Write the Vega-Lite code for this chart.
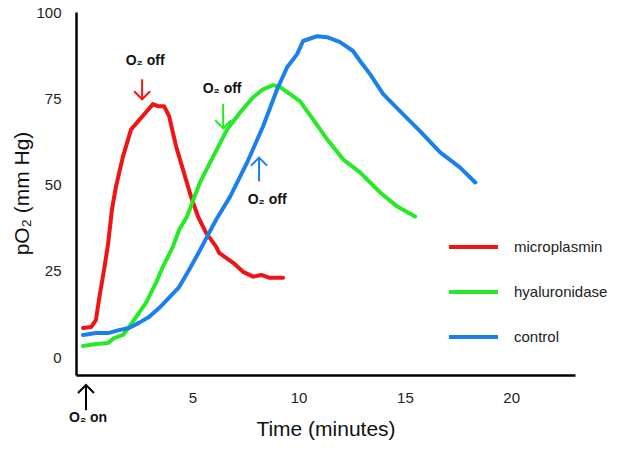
{
  "$schema": "https://vega.github.io/schema/vega-lite/v6.json",
  "width": 499,
  "height": 363,
  "autosize": {"type": "none"},
  "padding": {"left": 76, "top": 12, "right": 54, "bottom": 74},
  "background": "white",
  "config": {
    "view": {"stroke": null},
    "font": "Liberation Sans",
    "axis": {
      "grid": false,
      "domainColor": "black",
      "domainWidth": 2.5,
      "labelFont": "Liberation Sans",
      "titleFont": "Liberation Sans",
      "labelColor": "#222",
      "titleColor": "#111",
      "titleFontWeight": "normal",
      "labelOverlap": false
    }
  },
  "datasets": {
    "curves": [
      {"series": "microplasmin", "t": -0.14, "v": 8.4},
      {"series": "microplasmin", "t": 0.24, "v": 8.7},
      {"series": "microplasmin", "t": 0.47, "v": 10.8},
      {"series": "microplasmin", "t": 0.61, "v": 16.6},
      {"series": "microplasmin", "t": 0.85, "v": 25.3},
      {"series": "microplasmin", "t": 1.04, "v": 32.8},
      {"series": "microplasmin", "t": 1.22, "v": 42.7},
      {"series": "microplasmin", "t": 1.41, "v": 49.4},
      {"series": "microplasmin", "t": 1.74, "v": 58.1},
      {"series": "microplasmin", "t": 2.12, "v": 66.0},
      {"series": "microplasmin", "t": 2.45, "v": 68.3},
      {"series": "microplasmin", "t": 2.73, "v": 70.3},
      {"series": "microplasmin", "t": 3.15, "v": 73.3},
      {"series": "microplasmin", "t": 3.39, "v": 72.7},
      {"series": "microplasmin", "t": 3.67, "v": 72.7},
      {"series": "microplasmin", "t": 3.91, "v": 69.8},
      {"series": "microplasmin", "t": 4.24, "v": 61.0},
      {"series": "microplasmin", "t": 4.56, "v": 54.4},
      {"series": "microplasmin", "t": 4.94, "v": 46.5},
      {"series": "microplasmin", "t": 5.27, "v": 40.7},
      {"series": "microplasmin", "t": 5.65, "v": 36.0},
      {"series": "microplasmin", "t": 6.12, "v": 32.0},
      {"series": "microplasmin", "t": 6.26, "v": 30.2},
      {"series": "microplasmin", "t": 6.92, "v": 27.3},
      {"series": "microplasmin", "t": 7.39, "v": 24.7},
      {"series": "microplasmin", "t": 7.86, "v": 23.3},
      {"series": "microplasmin", "t": 8.24, "v": 23.8},
      {"series": "microplasmin", "t": 8.61, "v": 23.0},
      {"series": "microplasmin", "t": 9.27, "v": 23.0},
      {"series": "hyaluronidase", "t": -0.14, "v": 3.2},
      {"series": "hyaluronidase", "t": 0.47, "v": 3.8},
      {"series": "hyaluronidase", "t": 1.04, "v": 4.1},
      {"series": "hyaluronidase", "t": 1.32, "v": 5.5},
      {"series": "hyaluronidase", "t": 1.74, "v": 6.4},
      {"series": "hyaluronidase", "t": 2.02, "v": 8.7},
      {"series": "hyaluronidase", "t": 2.35, "v": 11.6},
      {"series": "hyaluronidase", "t": 2.82, "v": 15.7},
      {"series": "hyaluronidase", "t": 3.29, "v": 21.5},
      {"series": "hyaluronidase", "t": 3.62, "v": 26.2},
      {"series": "hyaluronidase", "t": 4.09, "v": 32.0},
      {"series": "hyaluronidase", "t": 4.38, "v": 36.9},
      {"series": "hyaluronidase", "t": 4.75, "v": 40.7},
      {"series": "hyaluronidase", "t": 5.36, "v": 50.6},
      {"series": "hyaluronidase", "t": 5.98, "v": 58.1},
      {"series": "hyaluronidase", "t": 6.64, "v": 66.0},
      {"series": "hyaluronidase", "t": 7.25, "v": 70.9},
      {"series": "hyaluronidase", "t": 7.86, "v": 75.3},
      {"series": "hyaluronidase", "t": 8.33, "v": 77.6},
      {"series": "hyaluronidase", "t": 8.8, "v": 78.8},
      {"series": "hyaluronidase", "t": 9.13, "v": 78.2},
      {"series": "hyaluronidase", "t": 9.6, "v": 76.2},
      {"series": "hyaluronidase", "t": 10.07, "v": 74.1},
      {"series": "hyaluronidase", "t": 10.68, "v": 68.9},
      {"series": "hyaluronidase", "t": 11.34, "v": 63.1},
      {"series": "hyaluronidase", "t": 12.09, "v": 57.3},
      {"series": "hyaluronidase", "t": 12.89, "v": 53.5},
      {"series": "hyaluronidase", "t": 13.84, "v": 47.7},
      {"series": "hyaluronidase", "t": 14.64, "v": 43.6},
      {"series": "hyaluronidase", "t": 15.48, "v": 40.7},
      {"series": "control", "t": -0.14, "v": 6.4},
      {"series": "control", "t": 0.47, "v": 7.0},
      {"series": "control", "t": 1.08, "v": 7.0},
      {"series": "control", "t": 1.55, "v": 7.8},
      {"series": "control", "t": 2.02, "v": 8.4},
      {"series": "control", "t": 2.49, "v": 9.9},
      {"series": "control", "t": 2.96, "v": 11.6},
      {"series": "control", "t": 3.44, "v": 14.2},
      {"series": "control", "t": 3.91, "v": 17.2},
      {"series": "control", "t": 4.38, "v": 20.3},
      {"series": "control", "t": 4.85, "v": 25.3},
      {"series": "control", "t": 5.32, "v": 30.5},
      {"series": "control", "t": 5.79, "v": 36.0},
      {"series": "control", "t": 6.12, "v": 39.8},
      {"series": "control", "t": 6.78, "v": 46.5},
      {"series": "control", "t": 7.58, "v": 56.4},
      {"series": "control", "t": 8.33, "v": 66.9},
      {"series": "control", "t": 8.99, "v": 77.6},
      {"series": "control", "t": 9.46, "v": 84.0},
      {"series": "control", "t": 9.93, "v": 87.8},
      {"series": "control", "t": 10.21, "v": 91.6},
      {"series": "control", "t": 10.87, "v": 93.0},
      {"series": "control", "t": 11.34, "v": 92.7},
      {"series": "control", "t": 11.95, "v": 91.3},
      {"series": "control", "t": 12.56, "v": 88.7},
      {"series": "control", "t": 12.89, "v": 85.8},
      {"series": "control", "t": 13.36, "v": 82.0},
      {"series": "control", "t": 13.98, "v": 76.2},
      {"series": "control", "t": 14.78, "v": 71.2},
      {"series": "control", "t": 15.72, "v": 65.4},
      {"series": "control", "t": 16.66, "v": 59.3},
      {"series": "control", "t": 17.6, "v": 54.9},
      {"series": "control", "t": 18.31, "v": 50.6}
    ],
    "arrows": [
      {"series": "microplasmin", "x": 2.64, "y1": 80.5, "y2": 74.7, "dir": "down", "label": "O₂ off", "lx": 2.78, "ly": 85.8},
      {"series": "hyaluronidase", "x": 6.45, "y1": 73.3, "y2": 66.3, "dir": "down", "label": "O₂ off", "lx": 6.4, "ly": 77.6},
      {"series": "control", "x": 8.14, "y1": 50.9, "y2": 57.8, "dir": "up", "label": "O₂ off", "lx": 8.52, "ly": 45.6},
      {"series": "start", "x": 0.0, "y1": -15.4, "y2": -8.1, "dir": "up", "label": "O₂ on", "lx": 0.1, "ly": -17.7}
    ]
  },
  "layer": [
    {
      "data": {"name": "curves"},
      "mark": {"type": "line", "strokeWidth": 4, "strokeCap": "round", "strokeJoin": "round"},
      "encoding": {
        "x": {
          "field": "t",
          "type": "quantitative",
          "title": "Time (minutes)",
          "scale": {"domain": [-0.47, 23.0], "nice": false, "zero": false},
          "axis": {
            "values": [5, 10, 15, 20],
            "ticks": false,
            "tickSize": 0,
            "labelPadding": 15,
            "labelFontSize": 15,
            "titleFontSize": 21,
            "titleY": 43
          }
        },
        "y": {
          "field": "v",
          "type": "quantitative",
          "title": "pO₂ (mm Hg)",
          "scale": {"domain": [-5.2, 100], "nice": false, "zero": false},
          "axis": {
            "values": [0, 25, 50, 75, 100],
            "ticks": false,
            "tickSize": 0,
            "labelPadding": 15,
            "labelFontSize": 15,
            "titleFontSize": 21,
            "titleX": -44,
            "titleY": 181
          }
        },
        "color": {
          "field": "series",
          "type": "nominal",
          "scale": {
            "domain": ["microplasmin", "hyaluronidase", "control", "start"],
            "range": ["#f01414", "#26ea26", "#1a80ec", "#000000"]
          },
          "legend": {
            "orient": "none",
            "legendX": 371,
            "legendY": 225,
            "title": null,
            "values": ["microplasmin", "hyaluronidase", "control"],
            "symbolType": "stroke",
            "symbolSize": 2401,
            "symbolStrokeWidth": 4,
            "labelFontSize": 15,
            "labelFont": "Liberation Sans",
            "labelColor": "#222",
            "labelOffset": 14,
            "clipHeight": 20,
            "rowPadding": 25,
            "padding": 0
          }
        }
      }
    },
    {
      "data": {"name": "arrows"},
      "mark": {"type": "rule", "strokeWidth": 2},
      "encoding": {
        "x": {"field": "x", "type": "quantitative"},
        "y": {"field": "y1", "type": "quantitative"},
        "y2": {"field": "y2"},
        "color": {"field": "series", "type": "nominal", "legend": null}
      }
    },
    {
      "data": {"name": "arrows"},
      "transform": [{"filter": "datum.dir === 'down'"}],
      "mark": {"type": "point", "shape": "M -1 -1 L 0 0 L 1 -1", "filled": false, "strokeWidth": 2, "size": 256, "opacity": 1},
      "encoding": {
        "x": {"field": "x", "type": "quantitative"},
        "y": {"field": "y2", "type": "quantitative"},
        "color": {"field": "series", "type": "nominal", "legend": null}
      }
    },
    {
      "data": {"name": "arrows"},
      "transform": [{"filter": "datum.dir === 'up'"}],
      "mark": {"type": "point", "shape": "M -1 1 L 0 0 L 1 1", "filled": false, "strokeWidth": 2, "size": 256, "opacity": 1},
      "encoding": {
        "x": {"field": "x", "type": "quantitative"},
        "y": {"field": "y2", "type": "quantitative"},
        "color": {"field": "series", "type": "nominal", "legend": null}
      }
    },
    {
      "data": {"name": "arrows"},
      "mark": {"type": "text", "fontSize": 14, "fontWeight": "bold", "font": "Liberation Sans", "color": "#111", "align": "center", "baseline": "middle"},
      "encoding": {
        "x": {"field": "lx", "type": "quantitative"},
        "y": {"field": "ly", "type": "quantitative"},
        "text": {"field": "label"}
      }
    }
  ]
}
